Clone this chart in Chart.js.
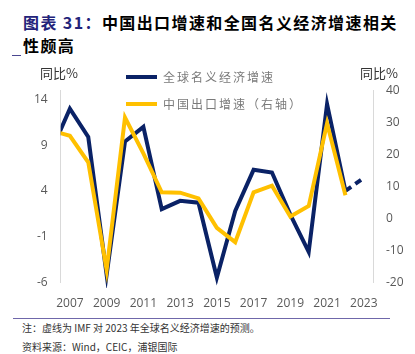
<!DOCTYPE html>
<html>
<head>
<meta charset="utf-8">
<script src="https://cdn.jsdelivr.net/npm/chart.js@4"></script>
<style>
  html, body { margin: 0; padding: 0; background: #fff; }
  body { width: 415px; height: 354px; position: relative; overflow: hidden; font-family: "Noto Sans CJK SC", sans-serif; }
  .title { position: absolute; left: 23px; top: 11px; font-size: 16px; font-weight: bold; line-height: 23px; color: #000; letter-spacing: 1.4px; }
  .title .num { color: #23237a; }
  .dash { position: absolute; left: 12px; top: 55px; width: 9px; height: 1px; background: #4a4790; }
  #wrap { position: absolute; left: 0; top: 60px; width: 415px; height: 252px; }
  .sep { position: absolute; left: 13px; top: 318px; width: 377px; height: 1px; background: #6f67aa; }
  .note { position: absolute; left: 22px; font-size: 10px; color: #333; line-height: 12px; }
</style>
</head>
<body>
<div class="title"><span class="num">图表 31：</span>中国出口增速和全国名义经济增速相关<br>性颇高</div>
<div class="dash"></div>
<div id="wrap"><canvas id="chart" width="415" height="252"></canvas></div>
<div class="sep"></div>
<div class="note" style="top:322px">注：虚线为 IMF 对 2023 年全球名义经济增速的预测。</div>
<div class="note" style="top:341px">资料来源：Wind，CEIC，浦银国际</div>

<script>
// data
const years = [2006, 2007, 2008, 2009, 2010, 2011, 2012, 2013, 2014, 2015, 2016, 2017, 2018, 2019, 2020, 2021, 2022, 2023];
const worldGdp = [8.4, 13.0, 9.9, -5.2, 9.4, 11.0, 2.0, 2.9, 2.7, -5.5, 1.8, 6.3, 6.0, 1.4, -2.7, 13.5, 4.0, 5.4]; // 2023 = IMF forecast
const chinaExports = [27.4, 25.8, 17.5, -16.2, 31.5, 20.3, 8.1, 8.0, 6.2, -3.0, -7.5, 8.1, 10.2, 0.5, 3.8, 29.7, 7.2];
const xTicks = [2007, 2009, 2011, 2013, 2015, 2017, 2019, 2021, 2023];
const leftTicks = [-6, -1, 4, 9, 14];
const rightTicks = [-20, -10, 0, 10, 20, 30, 40];
const seriesNames = ['全球名义经济增速', '中国出口增速（右轴）'];

const navy = '#0a2266';
const gold = '#ffc000';
const tickFont = { family: 'Open Sans', size: 12 };

// legend + axis unit labels, drawn by hand like the excel original
const extras = {
    id: 'extras',
    afterDraw(chart) {
        const ctx = chart.ctx;
        ctx.save();
        ctx.font = '13px "Noto Sans CJK SC"';
        ctx.fillStyle = '#333';
        ctx.textAlign = 'center';
        ctx.textBaseline = 'middle';
        ctx.fillText('同比%', 59, 13);
        ctx.fillText('同比%', 379, 13);

        const rows = [[navy, seriesNames[0], 17], [gold, seriesNames[1], 44]];
        rows.forEach(r => {
            ctx.strokeStyle = r[0];
            ctx.lineWidth = 4;
            ctx.beginPath();
            ctx.moveTo(126, r[2]);
            ctx.lineTo(157, r[2]);
            ctx.stroke();
            ctx.font = '12px "Noto Sans CJK SC"';
            ctx.fillStyle = '#7a7a7a';
            ctx.textAlign = 'left';
            let x = 163;
            for (const ch of r[1]) {
                ctx.fillText(ch, x, r[2]);
                x += 14;
            }
        });
        ctx.restore();
    }
};

const lastIdx = years.length - 2;
new Chart(document.getElementById('chart').getContext('2d'), {
    type: 'line',
    data: {
        datasets: [{
            label: seriesNames[1],
            data: chinaExports.map((v, i) => ({ x: years[i], y: v })),
            borderColor: gold,
            borderWidth: 4,
            pointRadius: 0,
            tension: 0,
            yAxisID: 'yR',
            order: 0,
            clip: { left: 0, right: 4, top: 6, bottom: 6 }
        }, {
            label: seriesNames[0],
            data: worldGdp.map((v, i) => ({ x: years[i], y: v })),
            borderColor: navy,
            borderWidth: 4,
            pointRadius: 0,
            tension: 0,
            yAxisID: 'yL',
            order: 1,
            segment: {
                borderDash: c => c.p0DataIndex >= lastIdx ? [7, 5] : undefined
            },
            clip: { left: 0, right: 4, top: 6, bottom: 6 }
        }]
    },
    options: {
        responsive: false,
        devicePixelRatio: 1,
        animation: false,
        layout: { padding: { top: 30.4, left: 0, right: 0, bottom: 0 } },
        plugins: { legend: { display: false }, tooltip: { enabled: false } },
        scales: {
            x: {
                type: 'linear',
                min: 2006.5,
                max: 2023.5,
                afterBuildTicks: s => { s.ticks = xTicks.map(v => ({ value: v })); },
                afterFit: s => { s.height = 29.9; },
                grid: { display: false, drawTicks: false },
                border: { display: false },
                ticks: { color: '#595959', font: tickFont, padding: 14, maxRotation: 0, autoSkip: false, callback: v => String(v) }
            },
            yL: {
                position: 'left',
                min: -6,
                max: 15,
                afterBuildTicks: s => { s.ticks = leftTicks.map(v => ({ value: v })); },
                afterFit: s => { s.width = 60.7; },
                grid: { drawTicks: false, color: c => c.tick.value === 0 ? '#d9d9d9' : 'rgba(0,0,0,0)' },
                border: { color: '#d9d9d9' },
                ticks: { color: '#595959', font: tickFont, padding: 13 }
            },
            yR: {
                position: 'right',
                min: -20,
                max: 40,
                afterBuildTicks: s => { s.ticks = rightTicks.map(v => ({ value: v })); },
                afterFit: s => { s.width = 42; },
                grid: { display: false, drawTicks: false },
                border: { color: '#d9d9d9' },
                ticks: { color: '#595959', font: tickFont, padding: 13 }
            }
        }
    },
    plugins: [extras]
});
</script>
</body>
</html>
